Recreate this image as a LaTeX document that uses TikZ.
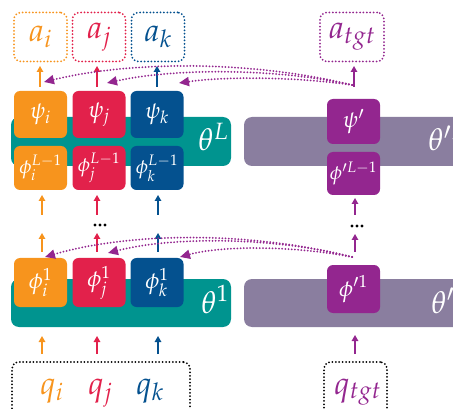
\documentclass[tikz,border=0pt]{standalone}
\usepackage{mathpazo}
\usetikzlibrary{arrows.meta}
\definecolor{cO}{HTML}{F7941D}
\definecolor{cR}{HTML}{E2214B}
\definecolor{cB}{HTML}{04518F}
\definecolor{cP}{HTML}{93268F}
\definecolor{cT}{HTML}{00948F}
\definecolor{cG}{HTML}{8A7E9F}
\begin{document}
\begin{tikzpicture}[x=1pt,y=-1pt,
  box/.style={rounded corners=6pt, minimum width=53pt, inner sep=0pt, text=white, font=\fontsize{23}{25}\selectfont},
  smallbox/.style={box, font=\fontsize{20}{22}\selectfont},
  bar/.style={rounded corners=8pt, inner sep=0pt, minimum height=49pt},
  outbox/.style={draw, rounded corners=7pt, line width=2pt, dash pattern=on 0pt off 3.4pt, line cap=round, minimum height=49pt, inner sep=0pt, font=\fontsize{32}{34}\selectfont},
  lbl/.style={inner sep=0pt, font=\fontsize{32}{34}\selectfont},
  thl/.style={inner sep=0pt, text=white, font=\fontsize{31}{33}\selectfont, anchor=base west},
  up/.style={-{Triangle[length=6pt,width=6.5pt]}, line width=1.3pt},
  cur/.style={draw=cP, line width=2pt, dash pattern=on 0pt off 3.2pt, line cap=round, -{Triangle[length=10pt,width=9pt]}},
  dotn/.style={circle, fill=black, inner sep=0pt, minimum size=3.4pt}
]
\useasboundingbox (0,0) rectangle (453,409);
\clip (0,0) rectangle (453,409);

% bars
\node[bar, fill=cT, minimum width=220pt] (barL) at (121,141.5) {};
\node[bar, fill=cG, minimum width=226pt] (barLP) at (357,141.5) {};
\node[bar, fill=cT, minimum width=220pt, minimum height=48pt] (barA) at (121,303) {};
\node[bar, fill=cG, minimum width=226pt, minimum height=48pt] (barAP) at (357,303) {};
\node[thl] (thL) at (198,151) {$\theta^{L}$};
\node[thl] (thLP) at (428,151) {$\theta^{\prime L}$};
\node[thl] (thA) at (201,313) {$\theta^{1}$};
\node[thl] (thAP) at (431,313) {$\theta^{\prime 1}$};

% output boxes
\node[outbox, draw=cO, text=cO, minimum width=53pt] (ai) at (40.5,37) {$a_i$};
\node[outbox, draw=cR, text=cR, minimum width=53pt] (aj) at (99,37) {$a_j$};
\node[outbox, draw=cB, text=cB, minimum width=53pt] (ak) at (158,37) {$a_k$};
\node[outbox, draw=cP, text=cP, minimum width=64pt] (at) at (352,37) {$a_{tgt}$};

% psi boxes
\node[box, fill=cO, minimum height=47pt] (psiI) at (40.5,114.5) {$\psi_i$};
\node[box, fill=cR, minimum height=47pt] (psiJ) at (99,114.5) {$\psi_j$};
\node[box, fill=cB, minimum height=47pt] (psiK) at (157,114.5) {$\psi_k$};
\node[box, fill=cP, minimum height=45pt] (psiP) at (353.5,121.5) {$\psi'$};

% phi L-1 boxes
\node[smallbox, fill=cO, minimum height=44pt] (phLI) at (40.5,168) {$\phi_i^{L-1}$};
\node[smallbox, fill=cR, minimum height=44pt] (phLJ) at (99,168) {$\phi_j^{L-1}$};
\node[smallbox, fill=cB, minimum height=44pt] (phLK) at (157,168) {$\phi_k^{L-1}$};
\node[smallbox, fill=cP, minimum height=43pt] (phLP) at (353.5,173.5) {$\phi^{\prime L-1}$};

% phi 1 boxes
\node[box, fill=cO, minimum height=49pt] (ph1I) at (40.5,282.5) {$\phi_i^{1}$};
\node[box, fill=cR, minimum height=49pt] (ph1J) at (99,282.5) {$\phi_j^{1}$};
\node[box, fill=cB, minimum height=49pt] (ph1K) at (157,282.5) {$\phi_k^{1}$};
\node[box, fill=cP, minimum height=48pt] (ph1P) at (353.5,289) {$\phi^{\prime 1}$};

% input boxes
\node[outbox, draw=black, minimum width=178pt, minimum height=58pt] (qbox) at (101,391) {};
\node[outbox, draw=black, minimum width=63pt, minimum height=58pt] (qtbox) at (355.5,391) {};
\node[lbl, text=cO, anchor=base west] (qi) at (40,394) {$q_i$};
\node[lbl, text=cR, anchor=base west] (qj) at (88,394) {$q_j$};
\node[lbl, text=cB, anchor=base west] (qk) at (136,394) {$q_k$};
\node[lbl, text=cP, anchor=base west] (qt) at (334,394) {$q_{tgt}$};

% dots
\node[dotn] (d1) at (95,225) {}; \node[dotn] (d2) at (100,225) {}; \node[dotn] (d3) at (105,225) {};
\node[dotn] (e1) at (352,226) {}; \node[dotn] (e2) at (357,226) {}; \node[dotn] (e3) at (362,226) {};

% coordinates for free ends
\coordinate (iA) at (42,354); \coordinate (iB) at (42,336);
\coordinate (jA) at (97,354); \coordinate (jB) at (97,336);
\coordinate (kA) at (158,354); \coordinate (kB) at (158,336);
\coordinate (pA) at (355,354); \coordinate (pB) at (355,335);
\coordinate (iC) at (42,252); \coordinate (iD) at (42,233);
\coordinate (jC) at (97,252); \coordinate (jD) at (97,233);
\coordinate (kC) at (158,252); \coordinate (kD) at (158,233);
\coordinate (pC) at (355,252); \coordinate (pD) at (355,234);
\coordinate (iE) at (42,215); \coordinate (iF) at (42,195);
\coordinate (jE) at (97,215); \coordinate (jF) at (97,195);
\coordinate (kE) at (158,215); \coordinate (kF) at (158,195);
\coordinate (pE) at (355,215); \coordinate (pF) at (355,198);
\coordinate (iG) at (40,87); \coordinate (iH) at (40,66);
\coordinate (jG) at (97,87); \coordinate (jH) at (97,66);
\coordinate (kG) at (157,87); \coordinate (kH) at (157,66);
\coordinate (pG) at (354,87); \coordinate (pH) at (354,66);

% straight arrows
\draw[up, cO] (iA) -- (iB); \draw[up, cR] (jA) -- (jB); \draw[up, cB] (kA) -- (kB); \draw[up, cP] (pA) -- (pB);
\draw[up, cO] (iC) -- (iD); \draw[up, cR] (jC) -- (jD); \draw[up, cB] (kC) -- (kD); \draw[up, cP] (pC) -- (pD);
\draw[up, cO] (iE) -- (iF); \draw[up, cR] (jE) -- (jF); \draw[up, cB] (kE) -- (kF); \draw[up, cP] (pE) -- (pF);
\draw[up, cO] (iG) -- (iH); \draw[up, cR] (jG) -- (jH); \draw[up, cB] (kG) -- (kH); \draw[up, cP] (pG) -- (pH);

% curved transfer arrows
\coordinate (sT) at (352,85);
\coordinate (tI) at (44,82); \coordinate (tJ) at (107,83); \coordinate (tK) at (179,83);
\draw[cur] (sT) .. controls (250,60) and (130,61) .. (tI);
\draw[cur] (sT) .. controls (270,67) and (170,69) .. (tJ);
\draw[cur] (sT) .. controls (290,76) and (220,77) .. (tK);
\coordinate (sB) at (352,257);
\coordinate (bI) at (45,257); \coordinate (bJ) at (108,253); \coordinate (bK) at (180,257);
\draw[cur] (sB) .. controls (250,231) and (130,232) .. (bI);
\draw[cur] (sB) .. controls (270,236) and (170,237) .. (bJ);
\draw[cur] (sB) .. controls (290,245) and (220,246) .. (bK);
\end{tikzpicture}
\end{document}
